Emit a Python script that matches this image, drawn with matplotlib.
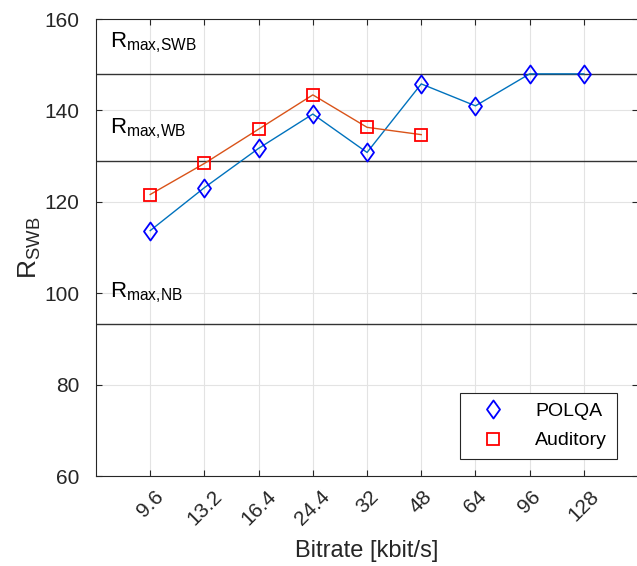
import matplotlib
matplotlib.use('Agg')
import matplotlib.pyplot as plt
from matplotlib.path import Path

plt.rcParams['font.family'] = ['Liberation Sans', 'DejaVu Sans']
plt.rcParams['mathtext.default'] = 'regular'

bitrates = ['9.6', '13.2', '16.4', '24.4', '32', '48', '64', '96', '128']
polqa = [113.7, 123.1, 131.7, 139.2, 130.8, 145.8, 141.0, 148.0, 148.0]
auditory = [121.6, 128.4, 135.9, 143.4, 136.3, 134.7]
r_max = {'SWB': 148.0, 'WB': 129.0, 'NB': 93.2}

# MATLAB-like diamond (a bit wider than matplotlib's 'd')
diamond = Path([(0, 1), (0.72, 0), (0, -1), (-0.72, 0), (0, 1)],
               [Path.MOVETO, Path.LINETO, Path.LINETO, Path.LINETO, Path.CLOSEPOLY])

fig = plt.figure(figsize=(6.37, 5.66), dpi=100)
ax = fig.add_axes([0.1507, 0.159, 0.851, 0.8074])

x = list(range(1, len(bitrates) + 1))
x_aud = x[:len(auditory)]

ax.plot(x, polqa, color=(0, 0.447, 0.741), lw=1, zorder=3)
ax.plot(x_aud, auditory, color=(0.85, 0.325, 0.098), lw=1, zorder=3)
p1, = ax.plot(x, polqa, marker=diamond, ls='none', mfc='none', mec='b', ms=13, mew=1.3,
              zorder=4, label='POLQA')
p2, = ax.plot(x_aud, auditory, 's', mfc='none', mec='r', ms=9, mew=1.3, zorder=4,
              label='Auditory')

for name, val in r_max.items():
    ax.axhline(val, color='#333333', lw=1, zorder=2)
    ax.text(0.26, val + 4.2, 'R$_{max{,}%s}$' % name, fontsize=16, va='bottom', ha='left')

ax.set_xlim(0, 10)
ax.set_ylim(60, 160)
ax.set_xticks(x)
ax.set_xticklabels(bitrates, rotation=45)
ax.set_yticks([60, 80, 100, 120, 140, 160])
ax.tick_params(labelsize=15, direction='in', length=4, colors='#262626',
               labelcolor='#262626', top=True, right=True)
ax.tick_params(axis='x', pad=8)
ax.tick_params(axis='y', pad=12)
ax.grid(True, color='#e3e3e3', lw=0.8)
ax.set_axisbelow(True)
for s in ax.spines.values():
    s.set_color('#262626')
    s.set_linewidth(0.8)

ax.set_xlabel('Bitrate [kbit/s]', fontsize=17, color='#262626', labelpad=8)
ax.set_ylabel('R$_{SWB}$', fontsize=19, color='#262626', labelpad=1)

leg = ax.legend(handles=[p1, p2], loc='lower right', bbox_to_anchor=(0.961, 0.037),
                borderaxespad=0, fontsize=14, fancybox=False, edgecolor='#262626',
                framealpha=1, handlelength=2.4, handletextpad=1.0, borderpad=0.5,
                labelspacing=0.6)
leg.get_frame().set_linewidth(0.8)

fig.savefig('out.png', dpi=100)
